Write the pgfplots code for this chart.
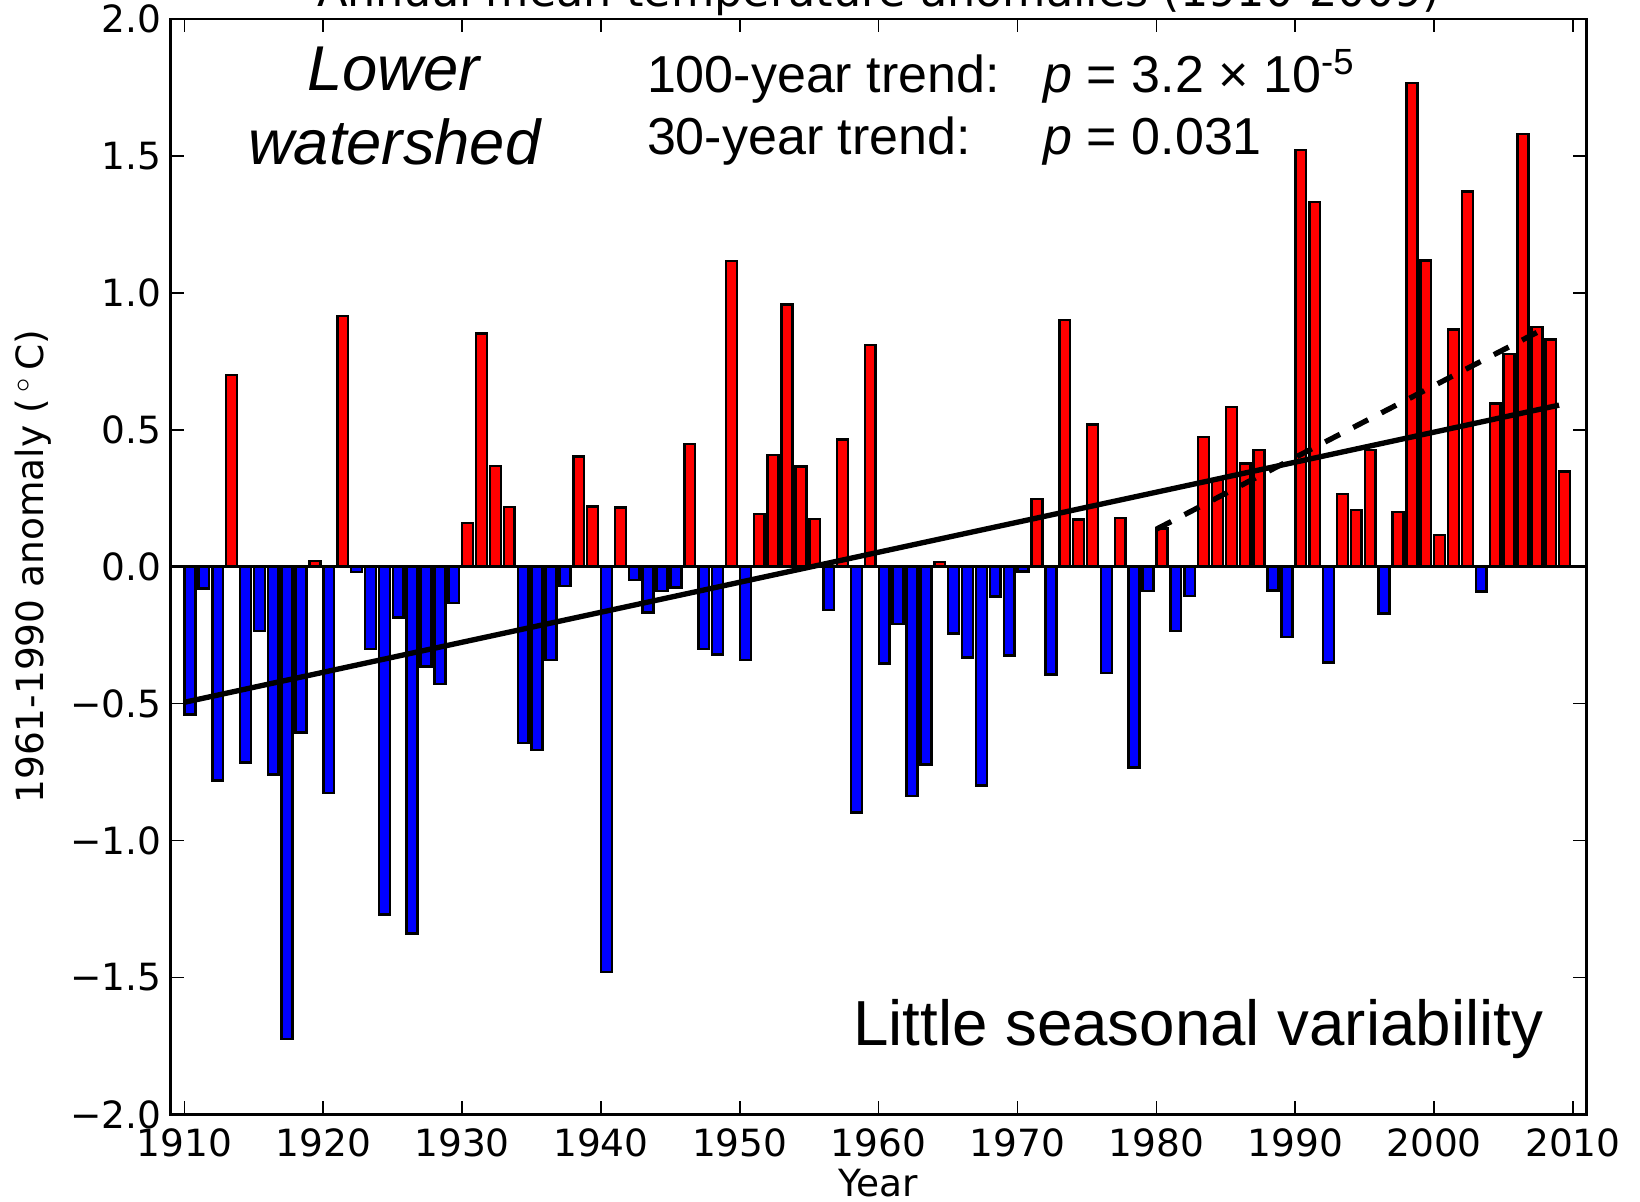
\documentclass[border=0pt]{standalone}
\usepackage{fontspec}
\setmainfont{DejaVu Sans}
\newfontfamily\arial{Liberation Sans}
\usepackage{pgfplots}
\usepackage{pgfplotstable}
\pgfplotsset{compat=1.18}

\pgfplotstableread{
year val
1913 0.70
1919 0.02
1921 0.916
1930 0.16
1931 0.852
1932 0.367
1933 0.218
1938 0.402
1939 0.22
1941 0.216
1946 0.448
1949 1.117
1951 0.193
1952 0.408
1953 0.957
1954 0.366
1955 0.175
1957 0.464
1959 0.81
1964 0.017
1971 0.247
1973 0.90
1974 0.172
1975 0.52
1977 0.177
1980 0.139
1983 0.474
1984 0.316
1985 0.583
1986 0.376
1987 0.427
1990 1.521
1991 1.332
1993 0.266
1994 0.207
1995 0.426
1997 0.20
1998 1.766
1999 1.118
2000 0.116
2001 0.867
2002 1.37
2004 0.596
2005 0.776
2006 1.58
2007 0.875
2008 0.829
2009 0.347
}\warm

\pgfplotstableread{
year val
1910 -0.54
1911 -0.08
1912 -0.78
1914 -0.715
1915 -0.234
1916 -0.758
1917 -1.725
1918 -0.606
1920 -0.826
1922 -0.02
1923 -0.30
1924 -1.27
1925 -0.186
1926 -1.34
1927 -0.365
1928 -0.428
1929 -0.133
1934 -0.643
1935 -0.67
1936 -0.34
1937 -0.07
1940 -1.479
1942 -0.048
1943 -0.167
1944 -0.089
1945 -0.076
1947 -0.30
1948 -0.32
1950 -0.34
1956 -0.158
1958 -0.898
1960 -0.353
1961 -0.21
1962 -0.838
1963 -0.723
1965 -0.244
1966 -0.332
1967 -0.799
1968 -0.108
1969 -0.324
1970 -0.018
1972 -0.394
1976 -0.388
1978 -0.733
1979 -0.088
1981 -0.234
1982 -0.107
1988 -0.087
1989 -0.257
1992 -0.35
1996 -0.171
2003 -0.09
}\cold

\begin{document}
\begin{tikzpicture}
\begin{axis}[
  scale only axis,
  width=424.9pt, height=328.65pt,
  xmin=1909, xmax=2011, ymin=-2, ymax=2,
  xtick={1910,1920,1930,1940,1950,1960,1970,1980,1990,2000,2010},
  xticklabels={1910,1920,1930,1940,1950,1960,1970,1980,1990,2000,2010},
  ytick={-2,-1.5,-1,-0.5,0,0.5,1,1.5,2},
  yticklabels={−2.0,−1.5,−1.0,−0.5,0.0,0.5,1.0,1.5,2.0},
  tick align=inside,
  major tick length=4pt,
  tick style={black, line width=0.5pt},
  axis line style={black, line width=0.8pt},
  ticklabel style={font=\fontsize{11.25}{13}\selectfont},
  xticklabel style={inner sep=0pt, anchor=north, yshift=-4.2pt},
  yticklabel style={inner sep=0pt, anchor=east, xshift=-2.6pt},
]
\addplot[ybar, bar width=0.78, bar shift=0.4, fill=red, draw=black, line width=0.75pt] table[x=year, y=val] {\warm};
\addplot[ybar, bar width=0.78, bar shift=0.4, fill=blue, draw=black, line width=0.75pt] table[x=year, y=val] {\cold};
\addplot[black, line width=0.8pt] coordinates {(1909,0) (2011,0)};
\addplot[black, line width=1.6pt] coordinates {(1910,-0.495) (2009,0.59)};
\addplot[black, line width=1.6pt, dash pattern=on 5pt off 4.5pt] coordinates {(1980,0.137) (2008,0.871)};

\coordinate (sw) at (rel axis cs:0,0);
\coordinate (ne) at (rel axis cs:1,1);
\coordinate (tt) at (rel axis cs:0.5,1);
\coordinate (bb) at (rel axis cs:0.5,0);
\coordinate (ll) at (rel axis cs:0,0.5);

\node[anchor=base west, inner sep=0pt, font=\arial\fontsize{15.6}{18}\selectfont] at (rel axis cs:0.336,0.9332) {100-year trend:};
\node[anchor=base west, inner sep=0pt, font=\arial\fontsize{15.6}{18}\selectfont] at (rel axis cs:0.336,0.876) {30-year trend:};
\node[anchor=base west, inner sep=0pt, font=\arial\fontsize{15.6}{18}\selectfont] at (rel axis cs:0.616,0.9332) {\textit{p} = 3.2 × 10\textsuperscript{-5}};
\node[anchor=base west, inner sep=0pt, font=\arial\fontsize{15.6}{18}\selectfont] at (rel axis cs:0.616,0.876) {\textit{p} = 0.031};
\node[anchor=base, inner sep=0pt, font=\arial\itshape\fontsize{19}{22}\selectfont] at (rel axis cs:0.1573,0.9351) {Lower};
\node[anchor=base, inner sep=0pt, font=\arial\itshape\fontsize{19}{22}\selectfont] at (rel axis cs:0.158,0.8674) {watershed};
\node[anchor=base east, inner sep=0pt, font=\arial\fontsize{19.1}{22}\selectfont] at (rel axis cs:0.9697,0.063) {Little seasonal variability};
\end{axis}

\node[anchor=base, inner sep=0pt, font=\fontsize{13.35}{16}\selectfont] at ([yshift=3.75pt]tt) {Annual mean temperature anomalies (1910-2009)};
\node[anchor=base, inner sep=0pt, font=\fontsize{11.25}{13}\selectfont] at ([yshift=-24.75pt]bb) {Year};
\node[anchor=base, rotate=90, inner sep=0pt, font=\fontsize{11.25}{13}\selectfont] at ([xshift=-38.2pt]ll) {1961-1990 anomaly (\,$^\circ$\,C)};

\pgfresetboundingbox
\useasboundingbox ([xshift=-51.15pt,yshift=-26.25pt]sw) rectangle ([xshift=15.96pt,yshift=5.7pt]ne);
\end{tikzpicture}
\end{document}
